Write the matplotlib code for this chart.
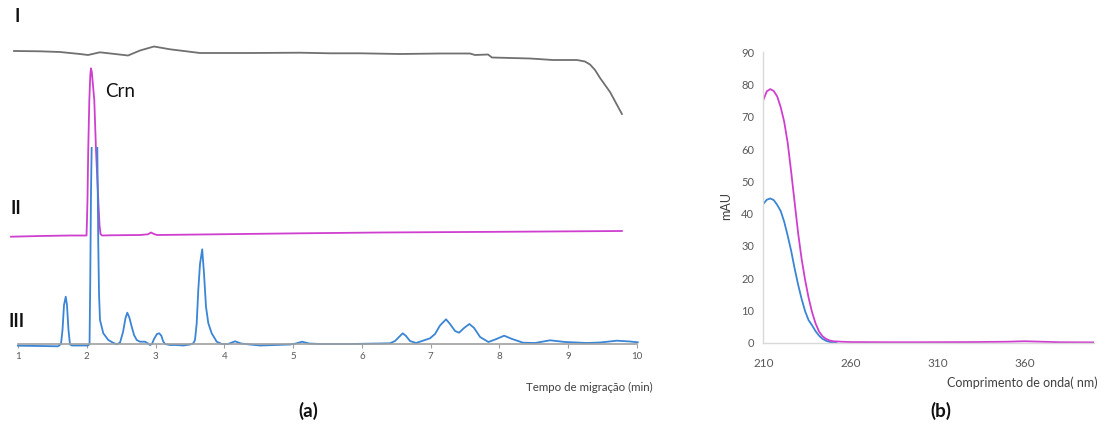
import matplotlib
matplotlib.use("Agg")
import matplotlib.pyplot as plt
from matplotlib.patches import Rectangle

plt.rcParams['font.family'] = ['Lato', 'DejaVu Sans']

# ---------------- (a) electropherograms (time in min, signal in a.u., stacked) -------------
t_I = [0.942, 1.32, 1.61, 1.90, 2.018, 2.19, 2.41, 2.60, 2.774, 2.977, 3.21, 3.646, 4.373,
       5.10, 5.536, 5.972, 6.554, 7.135, 7.57, 7.644, 7.833, 7.89, 8.444, 8.778, 9.127,
       9.243, 9.316, 9.389, 9.462, 9.607, 9.709, 9.78]
s_I = [293, 292.7, 292, 290, 289, 291.7, 290, 288.5, 293.5, 297.5, 294.7, 291, 291,
       291.3, 290.7, 290.7, 290, 290.5, 290.5, 289, 289.5, 286.5, 285.5, 284, 284,
       282.5, 279.5, 274, 266, 252, 239, 230]

t_II = [0.898, 1.32, 1.756, 1.996, 2.003, 2.010, 2.021, 2.037, 2.051, 2.061, 2.073, 2.109,
        2.134, 2.167, 2.185, 2.20, 2.221, 2.338, 2.774, 2.89, 2.934, 2.977, 3.021, 3.646,
        5.10, 6.263, 8.008, 9.78]
s_II = [107.3, 108, 108.5, 108.5, 124, 144, 194, 244, 269, 275.7, 272, 244,
        194, 144, 119, 110, 108.5, 108.7, 109, 109.7, 111.5, 110, 109, 109.5,
        110.7, 111.5, 112.2, 113]

t_III = [1.000, 1.320, 1.582, 1.625, 1.647, 1.669, 1.694, 1.712, 1.734, 1.756, 1.785, 2.018,
         2.040, 2.050, 2.061, 2.071, 2.112, 2.153, 2.167, 2.178, 2.192, 2.240, 2.313, 2.381,
         2.435, 2.483, 2.527, 2.563, 2.589, 2.621, 2.653, 2.687, 2.726, 2.774, 2.846, 2.89,
         2.919, 2.948, 2.977, 3.021, 3.054, 3.086, 3.108, 3.137, 3.21, 3.307, 3.399, 3.501,
         3.549, 3.573, 3.598, 3.621, 3.646, 3.678, 3.704, 3.733, 3.767, 3.816, 3.889, 3.962,
         4.053, 4.156, 4.242, 4.373, 4.518, 4.737, 4.955, 5.042, 5.129, 5.231, 5.391, 5.827,
         6.408, 6.481, 6.539, 6.593, 6.641, 6.699, 6.786, 6.874, 6.990, 7.063, 7.135, 7.223,
         7.281, 7.354, 7.412, 7.485, 7.562, 7.631, 7.718, 7.839, 7.937, 8.068, 8.184, 8.342,
         8.517, 8.735, 8.953, 9.273, 9.462, 9.705, 9.898, 10.01]
s_III = [-1.7, -2.0, -2.3, 0, 14, 39, 47.3, 39, 14, -0.5, -1.5, -1.5,
         0, 60, 150, 197.3, 420, 197.3, 100, 50, 24, 10.7, 4, 1.3,
         -0.3, 1.3, 12, 26, 31.3, 26, 17.3, 9, 4, 2.3, 2.3, 0.5,
         -1, 0, 5, 10, 10.7, 8, 3, 0, -1, -1, -1.5, -0.5,
         0.7, 4, 20.7, 54, 80, 94.7, 70.7, 37.3, 20.7, 10.7, 2.3, 0,
         0, 2.7, 0.5, -0.5, -1.5, -1, -0.5, 0.5, 2.3, 0.5, 0, 0,
         0.7, 3, 7, 10.7, 8, 3, 1, 3, 5.7, 10, 18.5, 24.7,
         20, 13, 11.3, 16, 20, 16, 7, 2, 4.5, 8.3, 5, 1.3,
         1, 3.7, 2, 1, 1.5, 3.3, 2.5, 1.7]
clip_top_III = 197.3

ticks_a = [1, 2, 3, 4, 5, 6, 7, 8, 9, 10]

# ---------------- (b) UV spectra -------------
wl_mag = [210, 212, 214, 216, 218, 220, 222, 224, 226, 228, 230, 232, 234, 236, 238, 240,
          242, 244, 246, 248, 250, 255, 260, 280, 300, 330, 350, 360, 370, 380, 400]
ab_mag = [75.2, 77.9, 78.6, 78.0, 76.3, 73.0, 68.5, 62.0, 53.0, 43.5, 34.0, 26.0, 19.5, 14.0,
          9.5, 6.0, 3.5, 2.0, 1.2, 0.7, 0.45, 0.3, 0.2, 0.15, 0.15, 0.2, 0.3, 0.45, 0.3, 0.15, 0.1]
wl_blue = [210, 212, 214, 216, 218, 220, 222, 224, 226, 228, 230, 232, 234, 236, 238, 240,
           242, 244, 246, 248, 250, 252]
ab_blue = [43.0, 44.3, 44.7, 44.2, 42.7, 40.8, 37.5, 33.2, 28.5, 23.0, 18.0, 13.6, 9.8, 7.0,
           5.4, 3.6, 2.2, 1.2, 0.6, 0.25, 0.05, 0.0]
ticks_bx = [210, 260, 310, 360]
ticks_by = [0, 10, 20, 30, 40, 50, 60, 70, 80, 90]

GRAY = "#707070"
MAG = "#CF3FCF"
BLUE = "#3A85D6"
TXT = "#595959"

W, H = 1106, 425
fig = plt.figure(figsize=(W / 100, H / 100), dpi=100)

def fx(px):
    return px / W

def fy(py):
    return 1 - py / H

# ---- panel (a)
axa = fig.add_axes([7.68 / W, (H - 350) / H, (640.5 - 7.68) / W, 350 / H])
axa.set_xlim(0.85, 10.05)
axa.set_ylim(-6, 344)
axa.plot(t_I, s_I, color=GRAY, lw=1.3, solid_joinstyle='round')
axa.plot(t_II, s_II, color=MAG, lw=1.3, solid_joinstyle='round')
l3, = axa.plot(t_III, s_III, color=BLUE, lw=1.3, solid_joinstyle='round')
rect = Rectangle((0.85, -10), 9.2, clip_top_III + 10, transform=axa.transData,
                 facecolor='none', edgecolor='none')
l3.set_clip_path(rect)
for s in ['top', 'right', 'left']:
    axa.spines[s].set_visible(False)
axa.spines['bottom'].set_position(('data', 0))
axa.spines['bottom'].set_bounds(1, 10)
axa.spines['bottom'].set_color('#a0a0a0')
axa.spines['bottom'].set_linewidth(1.2)
axa.set_xticks(ticks_a)
axa.set_xticklabels([str(v) for v in ticks_a])
axa.tick_params(axis='x', direction='out', length=3, width=0.8, color='#a0a0a0',
                labelsize=7, labelcolor=TXT, pad=2.5)
axa.set_yticks([])
axa.patch.set_alpha(0)

fig.text(fx(17), fy(16.5), "I", fontsize=13, fontweight='bold', ha='center', va='center', color='#111111')
fig.text(fx(16), fy(208.5), "II", fontsize=13, fontweight='bold', ha='center', va='center', color='#111111')
fig.text(fx(17), fy(321.5), "III", fontsize=13, fontweight='bold', ha='center', va='center', color='#111111')
fig.text(fx(105), fy(97), "Crn", fontsize=13.5, ha='left', va='baseline', color='#111111')
fig.text(fx(652.5), fy(387), "Tempo de migração (min)", fontsize=8.3, ha='right', va='center', color='#404040')
fig.text(fx(308), fy(410.5), "(a)", fontsize=13.5, fontweight='bold', ha='center', va='center', color='#111111')

# ---- panel (b)
axb = fig.add_axes([763.3 / W, (H - 342.7) / H, (1094 - 763.3) / W, (342.7 - 52.3) / H])
axb.set_xlim(210, 400)
axb.set_ylim(0, 90)
axb.plot(wl_blue, ab_blue, color=BLUE, lw=1.3)
axb.plot(wl_mag, ab_mag, color=MAG, lw=1.3)
for s in ['top', 'right']:
    axb.spines[s].set_visible(False)
for s in ['left', 'bottom']:
    axb.spines[s].set_color('#d9d9d9')
    axb.spines[s].set_linewidth(1.0)
axb.set_xticks(ticks_bx)
axb.set_yticks(ticks_by)
axb.tick_params(axis='x', length=0, labelsize=8.5, labelcolor=TXT, pad=11)
axb.tick_params(axis='y', length=0, labelsize=8, labelcolor=TXT, pad=6.5)
axb.patch.set_alpha(0)

fig.text(fx(726.5), fy(206), "mAU", fontsize=9, rotation=90, ha='center', va='center', color='#404040')
fig.text(fx(1098), fy(382.5), "Comprimento de onda( nm)", fontsize=9, ha='right', va='center', color='#404040')
fig.text(fx(941), fy(410.5), "(b)", fontsize=13.5, fontweight='bold', ha='center', va='center', color='#111111')

fig.savefig("out.png", dpi=100)
